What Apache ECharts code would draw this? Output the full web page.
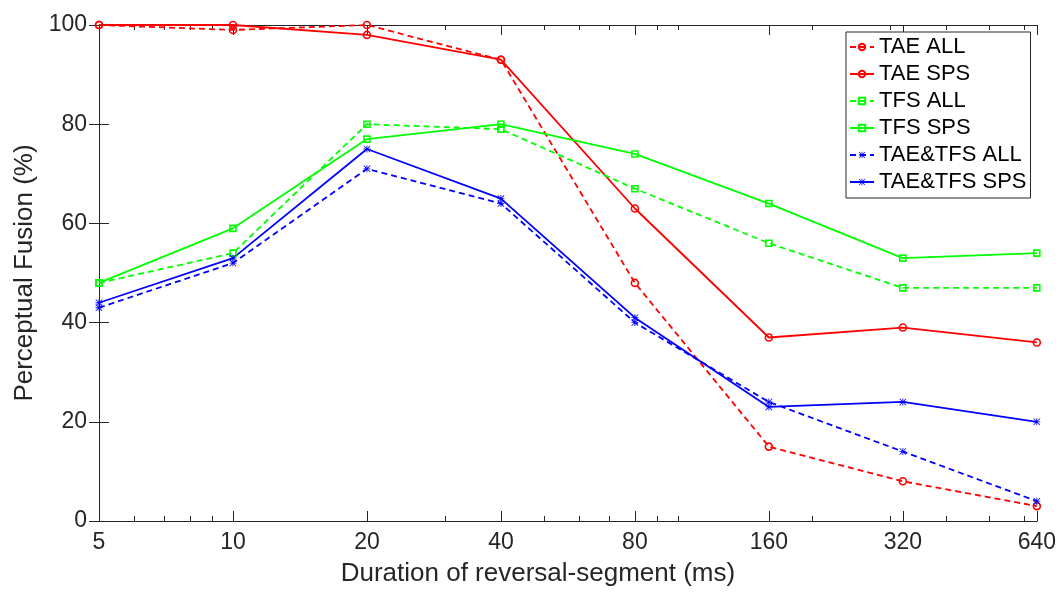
<!DOCTYPE html>
<html>
<head>
<meta charset="utf-8">
<script src="https://cdn.jsdelivr.net/npm/echarts@6/dist/echarts.min.js"></script>
<style>
  html, body { margin: 0; padding: 0; background: #ffffff; }
  #chart { width: 1059px; height: 596px; }
</style>
</head>
<body>
<div id="chart"></div>
<script>
// Reversal-segment durations (ms), plotted on a base-2 log axis
const durations = [5, 10, 20, 40, 80, 160, 320, 640];
const xTickLabels = ['5', '10', '20', '40', '80', '160', '320', '640'];
// Decade-style minor ticks between the doubling ticks
const minorTickDurations = [6, 7, 8, 9, 30, 50, 60, 70, 90, 100, 200, 300, 400, 500, 600];
const yTickLabels = ['0', '20', '40', '60', '80', '100'];

// Perceptual fusion (%) per condition
const taeAll  = [100, 99, 100, 93, 48, 15, 8, 3];
const taeSps  = [100, 100, 98, 93, 63, 37, 39, 36];
const tfsAll  = [48, 54, 80, 79, 67, 56, 47, 47];
const tfsSps  = [48, 59, 77, 80, 74, 64, 53, 54];
const bothAll = [43, 52, 71, 64, 40, 24, 14, 4];
const bothSps = [44, 53, 75, 65, 41, 23, 24, 20];

const seriesNames = ['TAE ALL', 'TAE SPS', 'TFS ALL', 'TFS SPS', 'TAE&TFS ALL', 'TAE&TFS SPS'];

const BASE = durations[0];
const toAxis = d => Math.log2(d / BASE);
const AXIS_MAX = toAxis(durations[durations.length - 1]);

const INK = '#262626';
const FONT = 'Liberation Sans, Arial, Helvetica, sans-serif';
const RED = '#ff0000', GREEN = '#00ff00', BLUE = '#0000ff';
const DASH = [6, 4];

// '*' marker built from four thin bars
const ASTERISK = 'path://M4.4,0H5.6V10H4.4Z M0,4.4H10V5.6H0Z M0.8,0L10,9.2L9.2,10L0,0.8Z M9.2,0L10,0.8L0.8,10L0,9.2Z';

function pairs(values) {
  return durations.map((d, i) => [toAxis(d), values[i]]);
}

function makeSeries(name, values, color, dashed, marker) {
  let symbol, symbolSize, itemStyle;
  if (marker === 'circle') {
    symbol = 'circle'; symbolSize = 7;
    itemStyle = { color: 'rgba(255,255,255,0)', borderColor: color, borderWidth: 1.6 };
  } else if (marker === 'square') {
    symbol = 'rect'; symbolSize = 6;
    itemStyle = { color: 'rgba(255,255,255,0)', borderColor: color, borderWidth: 1.6 };
  } else {
    symbol = ASTERISK; symbolSize = 7;
    itemStyle = { color: color, borderWidth: 0 };
  }
  return {
    name: name,
    type: 'line',
    data: pairs(values),
    symbol: symbol,
    symbolSize: symbolSize,
    symbolKeepAspect: true,
    showSymbol: true,
    itemStyle: itemStyle,
    lineStyle: { color: color, width: 1.8, type: dashed ? DASH : 'solid' },
    emphasis: { disabled: true },
    animation: false
  };
}

const majorPositions = durations.map(toAxis);
const minorPositions = minorTickDurations.map(toAxis);

function tickAxis(position, customValues, length) {
  return {
    type: 'value', position: position, min: 0, max: AXIS_MAX,
    axisLine: { show: true, onZero: false, lineStyle: { color: INK, width: 1 } },
    axisTick: { show: true, inside: true, length: length, customValues: customValues,
                lineStyle: { color: INK, width: 1 } },
    axisLabel: { show: false },
    splitLine: { show: false }
  };
}

const chart = echarts.init(document.getElementById('chart'), null, { renderer: 'canvas' });

chart.setOption({
  backgroundColor: '#ffffff',
  animation: false,
  textStyle: { fontFamily: FONT },
  grid: { left: 99, right: 21, top: 25, bottom: 75, containLabel: false },
  legend: {
    orient: 'vertical',
    left: 846, top: 32,
    data: seriesNames,
    itemWidth: 24, itemHeight: 8, itemGap: 5,
    padding: [4, 4, 5, 3],
    borderColor: INK, borderWidth: 1,
    backgroundColor: '#ffffff',
    textStyle: { fontFamily: FONT, fontSize: 22, color: '#000000', lineHeight: 22 },
    selectedMode: false
  },
  xAxis: [
    {
      type: 'value', position: 'bottom', min: 0, max: AXIS_MAX, interval: 1,
      axisLine: { show: true, onZero: false, lineStyle: { color: INK, width: 1 } },
      axisTick: { show: true, inside: true, length: 10, lineStyle: { color: INK, width: 1 } },
      axisLabel: {
        color: INK, fontSize: 23, fontFamily: FONT, margin: 10,
        formatter: v => xTickLabels[Math.round(v)]
      },
      splitLine: { show: false },
      name: 'Duration of reversal-segment (ms)',
      nameLocation: 'middle', nameGap: 40,
      nameTextStyle: { color: INK, fontSize: 26, fontFamily: FONT, padding: [0, 60, 0, 0] }
    },
    tickAxis('bottom', minorPositions, 5),
    tickAxis('top', majorPositions, 10),
    tickAxis('top', minorPositions, 5)
  ],
  yAxis: [
    {
      type: 'value', position: 'left', min: 0, max: 100, interval: 20,
      axisLine: { show: true, lineStyle: { color: INK, width: 1 } },
      axisTick: { show: true, inside: true, length: 10, lineStyle: { color: INK, width: 1 } },
      axisLabel: {
        color: INK, fontSize: 23, fontFamily: FONT, margin: 12,
        formatter: v => yTickLabels[Math.round(v / 20)]
      },
      splitLine: { show: false },
      name: 'Perceptual Fusion (%)',
      nameLocation: 'middle', nameGap: 55, nameRotate: 90,
      nameTextStyle: { color: INK, fontSize: 26, fontFamily: FONT }
    },
    {
      type: 'value', position: 'right', min: 0, max: 100, interval: 20,
      axisLine: { show: true, lineStyle: { color: INK, width: 1 } },
      axisTick: { show: true, inside: true, length: 10, lineStyle: { color: INK, width: 1 } },
      axisLabel: { show: false },
      splitLine: { show: false }
    }
  ],
  series: [
    makeSeries(seriesNames[0], taeAll, RED, true, 'circle'),
    makeSeries(seriesNames[1], taeSps, RED, false, 'circle'),
    makeSeries(seriesNames[2], tfsAll, GREEN, true, 'square'),
    makeSeries(seriesNames[3], tfsSps, GREEN, false, 'square'),
    makeSeries(seriesNames[4], bothAll, BLUE, true, 'asterisk'),
    makeSeries(seriesNames[5], bothSps, BLUE, false, 'asterisk')
  ]
});
</script>
</body>
</html>
